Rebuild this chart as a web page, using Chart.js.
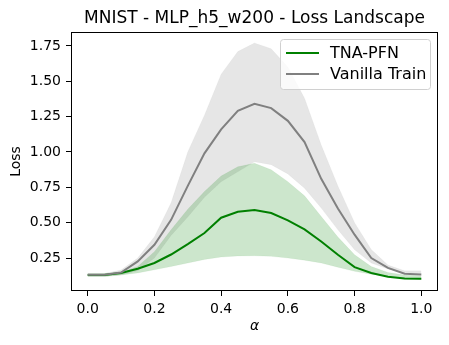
<!DOCTYPE html>
<html>
<head>
<meta charset="utf-8">
<script src="https://cdn.jsdelivr.net/npm/chart.js@4.4.0/dist/chart.umd.min.js"></script>
<style>
  html, body { margin: 0; padding: 0; background: #fff; }
  #wrap { width: 449px; height: 345px; }
</style>
</head>
<body>
<div id="wrap"><canvas id="loss-chart" width="449" height="345"></canvas></div>
<script>
'use strict';

// DATA

let alphas = [0, 0.05, 0.1, 0.15, 0.2, 0.25, 0.3, 0.35, 0.4, 0.45, 0.5,
  0.55, 0.6, 0.65, 0.7, 0.75, 0.8, 0.85, 0.9, 0.95, 1.0];

let tnaMean = [0.13, 0.13, 0.144, 0.174, 0.215, 0.275, 0.349, 0.427, 0.535, 0.577, 0.59,
  0.568, 0.516, 0.453, 0.367, 0.273, 0.186, 0.144, 0.118, 0.106, 0.104];
let tnaUpper = [0.14, 0.14, 0.15, 0.19, 0.295, 0.45, 0.595, 0.72, 0.83, 0.895, 0.92,
  0.874, 0.79, 0.69, 0.544, 0.398, 0.273, 0.19, 0.148, 0.13, 0.125];
let tnaLower = [0.12, 0.12, 0.13, 0.145, 0.167, 0.19, 0.215, 0.24, 0.257, 0.265, 0.266,
  0.262, 0.25, 0.235, 0.215, 0.185, 0.156, 0.135, 0.12, 0.1, 0.098];

let vanillaMean = [0.132, 0.132, 0.148, 0.226, 0.344, 0.52, 0.76, 0.99, 1.16, 1.29, 1.34,
  1.31, 1.22, 1.07, 0.81, 0.6, 0.415, 0.25, 0.18, 0.139, 0.134];
let vanillaUpper = [0.14, 0.14, 0.165, 0.25, 0.4, 0.64, 1.0, 1.26, 1.55, 1.71, 1.77,
  1.73, 1.6, 1.38, 1.05, 0.76, 0.5, 0.31, 0.2, 0.16, 0.16];
let vanillaLower = [0.12, 0.12, 0.13, 0.16, 0.25, 0.41, 0.54, 0.68, 0.79, 0.86, 0.93,
  0.91, 0.845, 0.744, 0.603, 0.45, 0.309, 0.215, 0.172, 0.144, 0.14];

let xTicks = [0, 0.2, 0.4, 0.6, 0.8, 1.0];
let yTicks = [0.25, 0.5, 0.75, 1.0, 1.25, 1.5, 1.75];

let seriesNames = ['TNA-PFN', 'Vanilla Train'];

// HELPERS

function toPoints(values) {
  let pts = [];
  for (let i = 0; i < alphas.length; i++) {
    pts.push({ x: alphas[i], y: values[i] });
  }
  return pts;
}

const FONT = '"DejaVu Sans", sans-serif';

// frame + legend + title drawn on top
const decorPlugin = {
  id: 'decor',
  afterDraw(chart) {
    let c = chart.ctx;
    let a = chart.chartArea;
    c.save();

    // axes box
    c.strokeStyle = '#000';
    c.lineWidth = 1;
    c.strokeRect(a.left + 0.5, a.top + 0.5, a.right - a.left - 1, a.bottom - a.top - 1);

    // title
    c.fillStyle = '#000';
    c.font = '17px ' + FONT;
    c.textAlign = 'center';
    c.textBaseline = 'alphabetic';
    c.fillText('MNIST - MLP_h5_w200 - Loss Landscape', (a.left + a.right) / 2, 23);

    // legend
    let bx = 280.5, by = 39.5, bw = 150, bh = 50;
    c.beginPath();
    c.roundRect(bx, by, bw, bh, 3);
    c.fillStyle = 'rgba(255,255,255,0.8)';
    c.fill();
    c.strokeStyle = '#d0d0d0';
    c.stroke();

    let colors = ['#008000', '#808080'];
    let rows = [53, 74];
    c.font = '16px ' + FONT;
    c.textAlign = 'left';
    c.textBaseline = 'middle';
    for (let i = 0; i < seriesNames.length; i++) {
      c.strokeStyle = colors[i];
      c.lineWidth = 2;
      c.beginPath();
      c.moveTo(286, rows[i]);
      c.lineTo(319, rows[i]);
      c.stroke();
      c.fillStyle = '#000';
      c.fillText(seriesNames[i], 330, rows[i] + 1);
    }
    c.restore();
  }
};

// CHART

let ctx = document.getElementById('loss-chart');

let chartObject = {
  type: 'line',
  data: {
    datasets: [
      {
        label: seriesNames[1],
        data: toPoints(vanillaMean),
        borderColor: '#808080',
        borderWidth: 2,
        pointRadius: 0,
        fill: false,
        tension: 0
      },
      {
        label: seriesNames[0],
        data: toPoints(tnaMean),
        borderColor: '#008000',
        borderWidth: 2,
        pointRadius: 0,
        fill: false,
        tension: 0
      },
      {
        label: 'tna-upper',
        data: toPoints(tnaUpper),
        borderColor: 'rgba(0,128,0,0.05)',
        borderWidth: 1,
        pointRadius: 0,
        backgroundColor: 'rgba(0,128,0,0.2)',
        fill: '+1'
      },
      {
        label: 'tna-lower',
        data: toPoints(tnaLower),
        borderColor: 'rgba(0,128,0,0.05)',
        borderWidth: 1,
        pointRadius: 0,
        fill: false
      },
      {
        label: 'vanilla-upper',
        data: toPoints(vanillaUpper),
        borderColor: 'rgba(128,128,128,0.05)',
        borderWidth: 1,
        pointRadius: 0,
        backgroundColor: 'rgba(128,128,128,0.2)',
        fill: '+1'
      },
      {
        label: 'vanilla-lower',
        data: toPoints(vanillaLower),
        borderColor: 'rgba(128,128,128,0.05)',
        borderWidth: 1,
        pointRadius: 0,
        fill: false
      }
    ]
  },
  options: {
    responsive: false,
    animation: false,
    devicePixelRatio: 1,
    layout: {
      padding: { left: 0, right: 11, top: 32, bottom: 0 }
    },
    plugins: {
      legend: { display: false },
      title: { display: false },
      tooltip: { enabled: false },
      filler: { propagate: false }
    },
    scales: {
      x: {
        type: 'linear',
        min: -0.05,
        max: 1.05,
        afterFit(scale) { scale.height = 54; },
        afterBuildTicks(scale) {
          scale.ticks = xTicks.map(v => ({ value: v }));
        },
        grid: {
          drawOnChartArea: false,
          drawTicks: true,
          tickLength: 5,
          tickWidth: 1,
          color: '#000'
        },
        border: { display: false },
        ticks: {
          color: '#000',
          padding: 5,
          maxRotation: 0,
          font: { family: FONT, size: 14 },
          callback: v => v.toFixed(1)
        },
        title: {
          display: true,
          text: 'α',
          color: '#000',
          font: { family: FONT, size: 14, style: 'italic' },
          padding: { top: 0, bottom: 10 }
        }
      },
      y: {
        type: 'linear',
        min: 0.017,
        max: 1.848,
        afterFit(scale) { scale.width = 71; },
        afterBuildTicks(scale) {
          scale.ticks = yTicks.map(v => ({ value: v }));
        },
        grid: {
          drawOnChartArea: false,
          drawTicks: true,
          tickLength: 5,
          tickWidth: 1,
          color: '#000'
        },
        border: { display: false },
        ticks: {
          color: '#000',
          padding: 5,
          font: { family: FONT, size: 14 },
          callback: v => v.toFixed(2)
        },
        title: {
          display: true,
          text: 'Loss',
          color: '#000',
          font: { family: FONT, size: 14 },
          padding: { top: 8, bottom: 0 }
        }
      }
    }
  },
  plugins: [decorPlugin]
};

const lossChart = new Chart(ctx, chartObject);
</script>
</body>
</html>
